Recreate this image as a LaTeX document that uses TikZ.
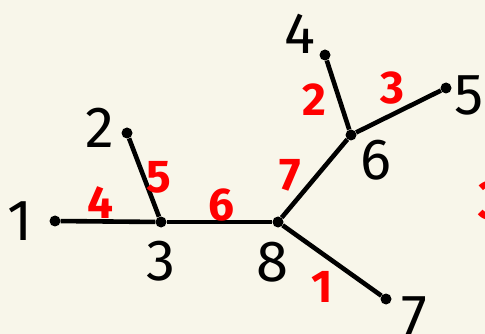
\documentclass[tikz,border=0pt]{standalone}
\usepackage{fontspec}
\setmainfont{Fira Sans}
\usepackage{xcolor}
\usepackage{tikz}
\usetikzlibrary{positioning}
\definecolor{paper}{HTML}{F8F6EA}

\tikzset{
    vert/.style={circle, fill=black, inner sep=0pt, minimum size=11pt},
    vlab/.style={inner sep=0pt, font=\fontsize{58}{58}\selectfont},
    elab/.style={inner sep=0pt, text=red, font=\fontsize{46}{46}\selectfont\bfseries},
    edge/.style={line width=4.6pt, black}
}

\begin{document}
\begin{tikzpicture}[x=1pt, y=-1pt]
    % background
    \fill[paper] (0,0) rectangle (485,334);
    \useasboundingbox (0,0) rectangle (485,334);
    % vertices
    \node[vert] (v1) at (55,221) {};
    \node[vert] (v2) at (127,133) {};
    \node[vert] (v3) at (161,222) {};
    \node[vert] (v4) at (325,55) {};
    \node[vert] (v5) at (446,88) {};
    \node[vert] (v6) at (351,135) {};
    \node[vert] (v7) at (386,299) {};
    \node[vert] (v8) at (278,222) {};
    % edges
    \draw[edge] (v1) -- (v3);
    \draw[edge] (v2) -- (v3);
    \draw[edge] (v3) -- (v8);
    \draw[edge] (v8) -- (v6);
    \draw[edge] (v4) -- (v6);
    \draw[edge] (v6) -- (v5);
    \draw[edge] (v8) -- (v7);
    % vertex labels
    \node[vlab] (l1) at (20,221) {1};
    \node[vlab] (l2) at (100,128) {2};
    \node[vlab] (l3) at (161,261) {3};
    \node[vlab] (l4) at (300,34) {4};
    \node[vlab] (l5) at (469,95) {5};
    \node[vlab] (l6) at (376,160) {6};
    \node[vlab] (l7) at (414,316) {7};
    \node[vlab] (l8) at (272,262) {8};
    % edge weights
    \node[elab] (w4) at (100,203) {4};
    \node[elab] (w5) at (159,177) {5};
    \node[elab] (w6) at (221,205) {6};
    \node[elab] (w7) at (290,175) {7};
    \node[elab] (w2) at (314,100) {2};
    \node[elab] (w3) at (392,88) {3};
    \node[elab] (w1) at (322,287) {1};
    \node[elab, anchor=west, font=\fontsize{56}{56}\selectfont\bfseries] (wx) at (478,201) {3};
\end{tikzpicture}
\end{document}
